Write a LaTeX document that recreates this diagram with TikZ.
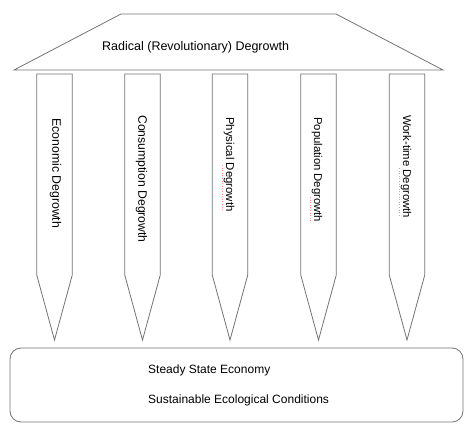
\documentclass[tikz,border=0pt]{standalone}
\usepackage{fontspec}
\setmainfont{Liberation Sans}
\begin{document}
\begin{tikzpicture}[x=1pt,y=-1pt,
  outline/.style={draw=black!55,line width=0.8pt,line join=miter},
  lbl/.style={inner sep=0pt,text=black},
  vlbl/.style={lbl,rotate=-90,anchor=west},
  spell/.style={draw=red!70,line width=0.6pt,dotted,opacity=0.6}]
\useasboundingbox (0,0) rectangle (465,423);
% roof
\draw[outline] (121,14) -- (336,14) -- (443,70) -- (14,70) -- cycle;
\node[lbl,anchor=west,font=\fontsize{12.5}{14}\selectfont] (roof) at (102,47) {Radical (Revolutionary) Degrowth};
% pillars
\foreach \cx/\nm in {54.5/p1,142.5/p2,230/p3,318.5/p4,407/p5}{
  \draw[outline] (\cx-17.75,74) -- (\cx+17.75,74) -- (\cx+17.75,275) -- (\cx,340) -- (\cx-17.75,275) -- cycle;
}
\node[vlbl,font=\fontsize{12.3}{14}\selectfont] (t1) at (55.5,118) {Economic Degrowth};
\node[vlbl,font=\fontsize{12.2}{14}\selectfont] (t2) at (141.5,115) {Consumption Degrowth};
\node[vlbl,font=\fontsize{11.4}{13}\selectfont] (t3) at (229,117) {Physical Degrowth};
\node[vlbl,font=\fontsize{11.3}{13}\selectfont] (t4) at (317,117) {Population Degrowth};
\node[vlbl,font=\fontsize{11.3}{13}\selectfont] (t5) at (406,115) {Work-time Degrowth};
% spellcheck marks
\draw[spell] (222.5,165) -- (222.5,210);
\draw[spell] (310.5,197) -- (310.5,222);
\draw[spell] (399.5,168) -- (399.5,217);
% base
\draw[outline,rounded corners=11pt] (10,348) rectangle (463,422);
\node[lbl,anchor=west,font=\fontsize{12}{14}\selectfont] (s1) at (148,370) {Steady State Economy};
\node[lbl,anchor=west,font=\fontsize{12}{14}\selectfont] (s2) at (148,400) {Sustainable Ecological Conditions};
\end{tikzpicture}
\end{document}
